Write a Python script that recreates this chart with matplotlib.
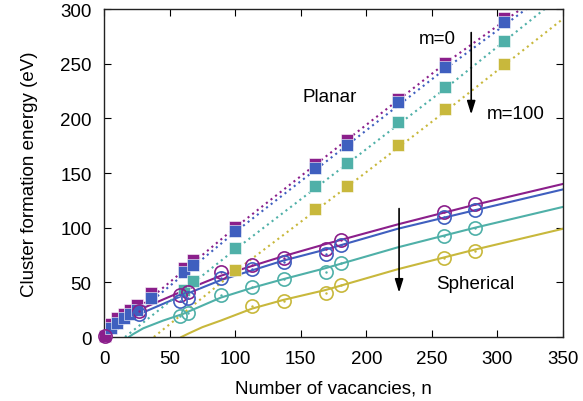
import numpy as np
import matplotlib
matplotlib.use("Agg")
import matplotlib.pyplot as plt

plt.rcParams['font.family'] = ['Liberation Sans', 'DejaVu Sans']

# colours for m = 0 ... m = 100 (top to bottom)
colors = ['#8b1f8b', '#3f5fbf', '#4fb0a8', '#c8b83c']

# planar clusters (squares)
planar_n = [1, 5, 10, 15, 20, 25, 36, 61, 68, 100, 161, 185, 224, 260, 305]
planar_E = [
    [1, 12, 17, 21, 25, 29, 40, 63, 70, 101, 158, 180, 218, 251, 292],
    [np.nan, 8, 13, 17, 21, 25, 36, 59, 66, 97, 155, 176, 215, 247, 288],
    [np.nan] * 7 + [43, 51, 81, 138, 159, 197, 229, 271],
    [np.nan] * 9 + [61, 117, 138, 176, 209, 250],
]
# planar fit lines (dotted)
planar_line = [
    ([0, 100, 185, 261, 318], [0, 100, 180, 251, 300]),
    ([3, 100, 185, 261, 322], [0, 96, 175, 246, 300]),
    ([16, 100, 185, 261, 336], [0, 80, 158, 228, 300]),
    ([38, 100, 185, 261, 350], [0, 60, 137, 207, 291]),
]

# spherical clusters (circles)
sph_n = [1, 27, 58, 64, 89, 113, 137, 169, 181, 259, 283]
sph_E = [
    [1, 24, 38, 41, 59, 66, 72, 80.5, 89, 114.7, 121.7],
    [np.nan, 21, 33, 36, 54, 62, 69, 76, 84, 109.5, 116.5],
    [np.nan, np.nan, 19.5, 22, 38.5, 45.4, 53, 59, 68, 92.7, 99.5],
    [np.nan] * 5 + [28, 33.2, 40, 47.6, 72, 79],
]
# spherical fit lines (solid)
sph_line = [
    ([0, 3, 10, 27, 60, 89, 113, 137, 169, 224, 283, 350],
     [0, 5, 13, 25, 42, 56, 65, 74, 85, 103, 121, 140]),
    ([2, 5, 10, 27, 60, 89, 113, 137, 169, 224, 283, 350],
     [0, 4, 9, 21, 38, 52, 61, 70, 80, 99, 116, 135]),
    ([19, 22, 30, 45, 60, 89, 113, 137, 169, 224, 283, 350],
     [0, 2.5, 8, 15, 21, 36, 45, 53, 63, 82, 100, 119]),
    ([59, 65, 75, 89, 113, 137, 169, 224, 283, 350],
     [0, 3.5, 9, 15, 26, 34, 43, 62, 80, 99]),
]

fig = plt.figure(figsize=(5.83, 4.02), dpi=100)
ax = fig.add_axes([0.1784, 0.1592, 0.7873, 0.8159])

for i, c in enumerate(colors):
    lx, ly = planar_line[i]
    ax.plot(lx, ly, color=c, lw=1.5, linestyle=(0, (1, 1.8)), zorder=2)
    sx, sy = sph_line[i]
    ax.plot(sx, sy, color=c, lw=1.5, zorder=2)

for i, c in enumerate(colors):
    ax.plot(planar_n, planar_E[i], 's', color=c, ms=8.5, mec='white',
            mew=0.4, zorder=3, clip_on=False)
    ax.plot(sph_n, sph_E[i], 'o', mfc='none', mec=c, ms=9.5, mew=1.2,
            zorder=4, clip_on=False)
    ax.plot(sph_n, sph_E[i], '.', color=c, ms=1.5, zorder=4, clip_on=False)

ax.set_xlim(0, 350)
ax.set_ylim(0, 300)
ax.set_xticks(np.arange(0, 351, 50))
ax.set_yticks(np.arange(0, 301, 50))
ax.tick_params(direction='in', length=5, width=0.8, top=True, right=True,
               labelsize=13.5, pad=9)
for s in ax.spines.values():
    s.set_linewidth(1.0)
    s.set_color('#222222')

ax.set_xlabel('Number of vacancies, n', fontsize=13.5, labelpad=9)
ax.set_ylabel('Cluster formation energy (eV)', fontsize=13.5, labelpad=16)

ax.text(172, 220, 'Planar', fontsize=13.5, ha='center', va='center')
ax.text(283, 48.5, 'Spherical', fontsize=13.5, ha='center', va='center')
ax.text(268, 272.6, 'm=0', fontsize=13.5, ha='right', va='center')
ax.text(292, 204, 'm=100', fontsize=13.5, ha='left', va='center')
ax.annotate('', xy=(280, 201), xytext=(280, 281),
            arrowprops=dict(arrowstyle='-|>,head_width=0.25,head_length=0.8',
                            color='black', lw=1.2))
ax.annotate('', xy=(225, 38), xytext=(225, 120),
            arrowprops=dict(arrowstyle='-|>,head_width=0.25,head_length=0.8',
                            color='black', lw=1.2))

fig.savefig('out.png', dpi=100)
